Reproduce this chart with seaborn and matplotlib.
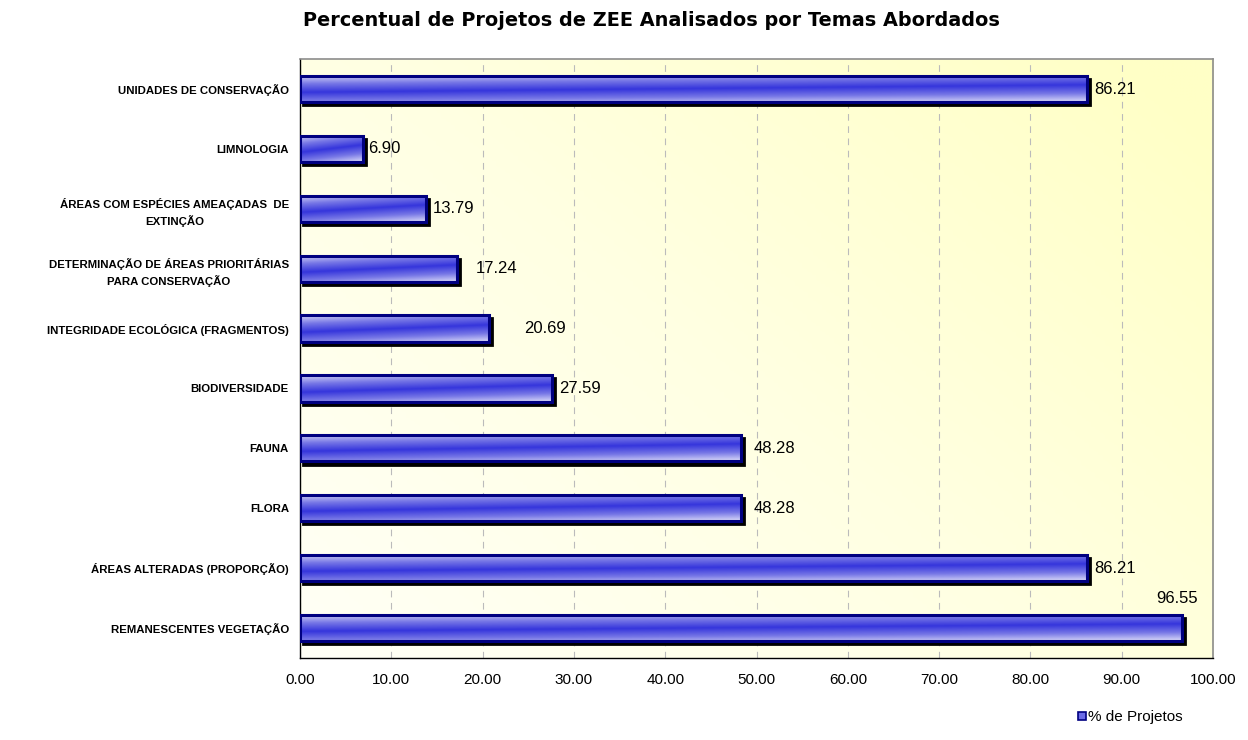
import numpy as np
import pandas as pd
import seaborn as sns
import matplotlib.pyplot as plt
from matplotlib.patches import Rectangle
from matplotlib.colors import LinearSegmentedColormap
from matplotlib.transforms import ScaledTranslation

# Data (top to bottom)
temas = [
    "UNIDADES DE CONSERVAÇÃO",
    "LIMNOLOGIA",
    "ÁREAS COM ESPÉCIES AMEAÇADAS  DE\nEXTINÇÃO",
    "DETERMINAÇÃO DE ÁREAS PRIORITÁRIAS\nPARA CONSERVAÇÃO",
    "INTEGRIDADE ECOLÓGICA (FRAGMENTOS)",
    "BIODIVERSIDADE",
    "FAUNA",
    "FLORA",
    "ÁREAS ALTERADAS (PROPORÇÃO)",
    "REMANESCENTES VEGETAÇÃO",
]
percentual = [86.21, 6.90, 13.79, 17.24, 20.69, 27.59, 48.28, 48.28, 86.21, 96.55]
xticks = np.arange(0, 101, 10)

# label offsets in points (Excel placed them a bit irregularly)
label_offsets = [(3, 0), (2, 0), (3, 0), (11, 0), (23, 0), (3, 0), (7, 0), (7, 0), (3, 0), (10, 21)]

df = pd.DataFrame({"tema": temas, "pct": percentual})

sns.set_style("white")
plt.rcParams["font.family"] = ["Liberation Sans", "DejaVu Sans"]
plt.rcParams["text.color"] = "black"
plt.rcParams["xtick.color"] = "black"
plt.rcParams["ytick.color"] = "black"

fig = plt.figure(figsize=(12.48, 7.40), dpi=100)
ax = fig.add_axes([0.2404, 0.111, 0.7316, 0.809])

sns.barplot(data=df, x="pct", y="tema", orient="h", ax=ax, width=0.44,
            color="#4444dd", edgecolor="#000080", linewidth=2.2, zorder=3)

n = len(temas)
ax.set_xlim(0, 100)
ax.set_ylim(n - 0.5, -0.5)

# background: near white at lower-left to pale yellow at top-right
gx, gy = np.meshgrid(np.linspace(0, 1, 200), np.linspace(0, 1, 200))
t = np.clip(0.6 * gx + 0.45 * gy, 0, 1)  # gy = 0 at bottom row (extent flips)
bg_cmap = LinearSegmentedColormap.from_list("bg", ["#fffff6", "#ffffe2", "#ffffc6"])
ax.imshow(t[::-1], cmap=bg_cmap, extent=[0, 100, n - 0.5, -0.5],
          aspect="auto", zorder=0, vmin=0, vmax=1)

# bar gradient: diagonal light -> blue band -> light, stretched over the bar
bar_cmap = LinearSegmentedColormap.from_list(
    "bar", ["#d4d4f6", "#7777e6", "#3535dc", "#7777e6", "#dadaf8"])
shadow_shift = ScaledTranslation(2.2 / 72, -2.2 / 72, fig.dpi_scale_trans)
for p in ax.patches[:]:
    x0, y0 = p.get_x(), p.get_y()
    w, h = p.get_width(), p.get_height()
    vy = np.linspace(0, 1, 60)[:, None]
    vx = np.linspace(0, 1, 160)[None, :]
    grad = 0.78 * vy + 0.22 * vx
    ax.imshow(grad, cmap=bar_cmap, extent=[x0, x0 + w, y0 + h, y0],
              aspect="auto", zorder=3.5, vmin=0, vmax=1)
    p.set_facecolor("none")
    p.set_zorder(4)
    sh = Rectangle((x0, y0), w, h, facecolor="black", edgecolor="black",
                   linewidth=2, zorder=2.5,
                   transform=ax.transData + shadow_shift)
    ax.add_patch(sh)

ax.set_xlim(0, 100)
ax.set_ylim(n - 0.5, -0.5)

# value labels
for i, (v, (dx, dy)) in enumerate(zip(percentual, label_offsets)):
    ha = "left" if dy == 0 else "right"
    ax.annotate(f"{v:.2f}", xy=(v, i), xytext=(dx + 2, dy), textcoords="offset points",
                ha=ha, va="center", fontsize=12, zorder=6)

# grid
ax.set_xticks(xticks)
ax.set_xticklabels([f"{x:.2f}" for x in xticks], fontsize=11)
ax.xaxis.grid(True, linestyle=(0, (6, 5)), color="#bbbbbb", linewidth=0.8, zorder=1)
ax.yaxis.grid(False)

ax.set_yticks(range(n))
ax.set_yticklabels(temas, fontsize=8.2, fontweight="bold", ha="right",
                   multialignment="center", linespacing=1.55)
ax.tick_params(axis="y", which="major", length=0, pad=8)
ax.set_yticks(np.arange(-0.5, n, 1), minor=True)
ax.tick_params(axis="y", which="minor", length=5, width=1, direction="out")
ax.tick_params(axis="x", length=5, width=1, direction="out", pad=6)

for s in ["left", "bottom"]:
    ax.spines[s].set_color("black")
    ax.spines[s].set_linewidth(1)
for s in ["top", "right"]:
    ax.spines[s].set_color("#8c8c8c")
    ax.spines[s].set_linewidth(1.2)

ax.set_xlabel("")
ax.set_ylabel("")

fig.text(0.522, 0.972, "Percentual de Projetos de ZEE Analisados por Temas Abordados",
         ha="center", va="center", fontsize=13.9, fontweight="heavy",
         family=["DejaVu Sans"])

# legend
lx, ly = 1078 / 1248, 1 - 716 / 740
fig.patches.append(Rectangle((lx, ly - 0.006), 8 / 1248, 8 / 740,
                             transform=fig.transFigure, facecolor="#6a6ae6",
                             edgecolor="#000080", linewidth=1.2))
fig.text(lx + 10 / 1248, ly - 0.001, "% de Projetos", fontsize=11, va="center")

fig.savefig("out.png", dpi=100)
